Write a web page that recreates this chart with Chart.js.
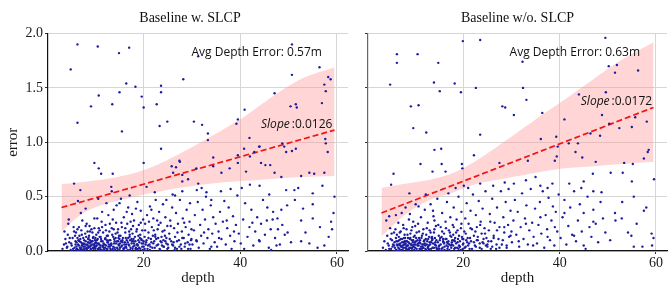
<!DOCTYPE html>
<html>
<head>
<meta charset="utf-8">
<script src="https://cdn.jsdelivr.net/npm/chart.js@4.4.0/dist/chart.umd.min.js"></script>
<style>
  body { margin: 0; background: #fff; }
  #wrap { position: relative; width: 671px; height: 287px; }
  canvas { position: absolute; top: 0; }
</style>
</head>
<body>
<div id="wrap">
  <canvas id="leftChart" width="352" height="287" style="left:0"></canvas>
  <canvas id="rightChart" width="319" height="287" style="left:352px"></canvas>
</div>
<script>
// depth / error samples, [depth, error]
const leftPoints = [
  [6.3,1.90],[10.5,1.88],[17.0,1.87],[14.9,1.82],[4.9,1.67],[16.4,1.54],[18.3,1.51],[15.0,1.46],[23.6,1.52],[23.6,1.46],
  [28.2,1.58],[19.6,1.42],[10.7,1.43],[20.0,1.32],[13.5,1.35],[9.1,1.33],[22.7,1.35],[6.3,1.18],[15.5,1.10],[23.3,1.15],
  [24.9,1.19],[30.4,1.19],[32.1,1.16],[33.3,1.08],[33.3,1.02],[23.6,0.94],[39.2,1.17],[39.5,1.21],[40.9,1.30],[47.1,1.45],
  [50.7,1.62],[50.7,1.90],[56.4,1.69],[57.4,1.53],[57.7,1.47],[58.2,1.60],[58.7,1.58],[51.5,1.35],[51.7,1.32],[56.9,1.36],
  [50.4,1.33],[31.3,1.79],[9.8,0.81],[10.7,0.76],[11.2,0.71],[13.6,0.71],[20.0,0.81],[5.6,0.62],[6.9,0.56],[6.4,0.46],
  [8.0,0.39],[4.5,0.29],[3.6,0.18],
  [25.8,0.78],[27.5,0.82],[26.1,0.72],[30.9,0.76],[34.4,0.86],[34.4,0.78],[36.1,0.72],[37.8,0.76],[39.5,0.81],[39.5,0.88],
  [41.9,1.04],[40.8,0.94],[42.0,0.87],[44.0,0.96],[42.9,0.91],[41.2,0.73],[44.3,0.81],[45.2,0.79],[46.2,0.79],[47.1,0.72],
  [49.1,0.96],[49.5,0.91],[50.7,0.92],[52.6,0.69],[54.3,0.72],[55.3,0.71],[57.4,0.72],[58.1,0.91],[57.6,1.03],[28.0,0.64],
  [29.2,0.66],[31.3,0.62],[48.7,0.99],[51.5,0.94],[57.7,0.99],[43.9,0.96],
  [13.3,0.59],[13.4,0.55],[10.6,0.48],[15.0,0.44],[17.1,0.51],[20.6,0.59],[22.3,0.54],[24.7,0.47],[26.7,0.77],[27.4,0.83],
  [26.5,0.51],[28.0,0.70],
  [59.5,0.50],[59.3,0.35],[59.0,0.20],[58.3,0.13],[57.4,0.05],[56.0,0.03],[54.3,0.07],[52.6,0.09],[55.0,0.53],[55.0,0.43],
  [55.0,0.30],[52.6,0.28],[53.0,0.39],[51.2,0.56],[49.5,0.56],[48.5,0.68],[48.5,0.38],[46.7,0.29],[47.8,0.20],[49.8,0.17],
  [46.4,0.01],
  [3.2,0.02],[3.5,0.06],[3.8,0.11],[4.1,0.03],[4.3,0.15],[4.6,0.08],[4.9,0.01],[5.1,0.05],[5.3,0.12],[5.5,0.22],
  [5.7,0.03],[5.9,0.09],[6.0,0.17],[4.4,0.25],[3.9,0.07],[5.2,0.00],[6.1,0.04],
  [6.2,0.02],[6.4,0.06],[6.5,0.10],[6.7,0.14],[6.8,0.03],[7.0,0.08],[7.1,0.19],[7.2,0.05],[7.4,0.01],[7.5,0.12],
  [7.6,0.07],[7.8,0.04],[7.9,0.16],[8.0,0.09],[8.1,0.02],[8.2,0.25],[8.3,0.06],[8.5,0.11],[8.6,0.03],[8.7,0.14],
  [8.8,0.07],[9.0,0.01],[9.1,0.05],[9.2,0.20],[9.3,0.09],[9.5,0.03],[9.6,0.13],[9.7,0.06],[9.8,0.30],[9.9,0.10],
  [6.6,0.22],[7.3,0.28],[8.4,0.18],[9.4,0.17],[6.9,0.01],[7.7,0.02],[8.9,0.04],[9.6,0.02],[6.3,0.12],[7.0,0.35],
  [8.0,0.00],[8.8,0.23],[9.9,0.04],
  [10.0,0.02],[10.1,0.08],[10.2,0.15],[10.3,0.05],[10.5,0.11],[10.6,0.01],[10.7,0.21],[10.8,0.06],[11.0,0.03],[11.1,0.13],
  [11.2,0.09],[11.3,0.27],[11.5,0.04],[11.6,0.17],[11.7,0.07],[11.8,0.01],[12.0,0.11],[12.1,0.24],[12.2,0.05],[12.4,0.14],
  [12.5,0.02],[12.6,0.08],[12.7,0.33],[12.9,0.18],[13.0,0.04],[13.1,0.10],[13.3,0.06],[13.4,0.21],[13.5,0.01],[13.7,0.13],
  [13.8,0.38],[13.9,0.07],[14.0,0.03],[14.2,0.16],[14.3,0.26],[14.5,0.09],[14.6,0.02],[14.8,0.12],[14.9,0.05],[10.4,0.30],
  [11.4,0.36],[12.3,0.44],[13.6,0.29],[14.4,0.42],[10.9,0.19],[12.8,0.00],[14.7,0.20],
  [15.0,0.01],[15.1,0.07],[15.2,0.14],[15.4,0.04],[15.5,0.22],[15.6,0.10],[15.8,0.02],[15.9,0.31],[16.0,0.06],[16.2,0.17],
  [16.3,0.12],[16.4,0.03],[16.6,0.25],[16.7,0.08],[16.8,0.40],[17.0,0.05],[17.1,0.15],[17.2,0.01],[17.4,0.20],[17.5,0.11],
  [17.6,0.34],[17.8,0.04],[17.9,0.09],[18.0,0.28],[18.2,0.13],[18.3,0.02],[18.5,0.18],[18.6,0.06],[18.7,0.45],[18.9,0.10],
  [19.0,0.24],[19.1,0.03],[19.3,0.15],[19.4,0.37],[19.6,0.07],[19.7,0.19],[19.8,0.01],[19.9,0.29],[15.3,0.48],[16.5,0.36],
  [17.3,0.27],[18.4,0.39],[16.1,0.00],[18.8,0.05],[17.7,0.16],
  [20.0,0.04],[20.2,0.13],[20.3,0.25],[20.5,0.08],[20.7,0.33],[20.8,0.02],[21.0,0.17],[21.2,0.06],[21.3,0.41],[21.5,0.11],
  [21.7,0.22],[21.8,0.03],[22.0,0.30],[22.2,0.09],[22.4,0.15],[22.5,0.47],[22.7,0.05],[22.9,0.20],[23.0,0.12],[23.2,0.36],
  [23.4,0.01],[23.5,0.26],[23.7,0.08],[23.9,0.18],[24.0,0.43],[24.2,0.04],[24.4,0.14],[24.5,0.31],[24.7,0.07],[24.9,0.23],
  [20.4,0.00],[21.6,0.38],[22.8,0.28],[24.1,0.10],
  [25.1,0.03],[25.3,0.16],[25.5,0.28],[25.7,0.09],[25.9,0.40],[26.1,0.05],[26.3,0.21],[26.5,0.13],[26.7,0.35],[26.9,0.02],
  [27.1,0.25],[27.3,0.10],[27.5,0.47],[27.7,0.06],[27.9,0.18],[28.1,0.30],[28.3,0.12],[28.5,0.04],[28.7,0.22],[28.9,0.38],
  [29.1,0.08],[29.3,0.15],[29.5,0.27],[29.7,0.02],[29.9,0.11],[26.0,0.52],[28.0,0.55],[29.6,0.44],
  [30.1,0.06],[30.4,0.19],[30.6,0.33],[30.9,0.10],[31.2,0.45],[31.4,0.03],[31.7,0.24],[31.9,0.14],[32.2,0.38],[32.4,0.07],
  [32.7,0.29],[32.9,0.50],[33.2,0.12],[33.4,0.20],[33.7,0.02],[33.9,0.42],[34.2,0.16],[34.4,0.31],[34.7,0.08],[34.9,0.25],
  [31.0,0.56],[32.0,0.58],[33.0,0.54],[34.0,0.47],
  [35.2,0.04],[35.5,0.18],[35.8,0.36],[36.1,0.11],[36.4,0.27],[36.7,0.46],[37.0,0.06],[37.3,0.21],[37.6,0.40],[37.9,0.14],
  [38.2,0.02],[38.5,0.32],[38.8,0.09],[39.1,0.24],[39.4,0.51],[39.7,0.16],[36.0,0.55],[38.0,0.57],
  [40.1,0.07],[40.6,0.29],[41.0,0.44],[41.5,0.13],[41.9,0.22],[42.3,0.38],[42.7,0.05],[43.1,0.18],[43.5,0.31],[43.9,0.10],
  [44.3,0.25],[44.7,0.47],[45.1,0.15],[45.5,0.28],[45.9,0.03],[46.3,0.20],[46.8,0.36],[47.2,0.12],[47.7,0.30],[48.2,0.06],
  [48.7,0.24],[49.2,0.15],[49.7,0.42],[40.3,0.58],[42.0,0.61],[44.0,0.60],[46.0,0.52],
  [50.5,0.08],[51.3,0.47],[53.5,0.17],[56.5,0.22],[58.8,0.27],[52.0,0.58],[57.0,0.60]
];

// dense cluster near the bottom of the left panel
const leftCore = [
  [4.2,0.04],[4.7,0.12],[5.0,0.07],[5.4,0.02],[5.8,0.14],[6.1,0.08],[6.4,0.01],[6.6,0.05],[6.9,0.11],[7.1,0.02],
  [7.3,0.07],[7.5,0.04],[7.7,0.10],[7.9,0.06],[8.1,0.13],[8.3,0.02],[8.5,0.08],[8.7,0.04],[8.9,0.10],[9.1,0.02],
  [9.3,0.06],[9.5,0.12],[9.7,0.03],[9.9,0.07],[10.1,0.04],[10.3,0.10],[10.5,0.02],[10.7,0.07],[10.9,0.13],[11.1,0.05],
  [11.3,0.01],[11.5,0.09],[11.7,0.03],[11.9,0.06],[12.1,0.12],[12.3,0.02],[12.5,0.08],[12.7,0.04],[12.9,0.10],[13.1,0.02],
  [13.3,0.07],[13.5,0.15],[13.7,0.04],[13.9,0.11],[14.1,0.01],[14.3,0.07],[14.5,0.03],[14.7,0.09],[14.9,0.14],[15.1,0.03],
  [15.3,0.09],[15.5,0.05],[15.7,0.12],[15.9,0.02],[16.1,0.08],[16.3,0.04],[16.5,0.10],[16.7,0.01],[16.9,0.06],[17.1,0.13],
  [17.3,0.03],[17.5,0.07],[17.7,0.02],[17.9,0.11],[18.1,0.05],[18.3,0.09],[18.5,0.01],[18.7,0.06],[18.9,0.14],[19.1,0.08],
  [19.3,0.02],[19.5,0.11],[19.7,0.04],[19.9,0.07],[20.2,0.02],[20.6,0.10],[20.9,0.05],[21.3,0.01],[21.6,0.08],[21.9,0.14],
  [22.3,0.03],[22.6,0.11],[23.0,0.06],[23.3,0.02],[23.7,0.13],[24.1,0.04],[24.5,0.09],[24.9,0.02],[25.4,0.11],[25.9,0.06],
  [26.4,0.01],[26.9,0.09],[27.4,0.04],[28.0,0.12],[28.6,0.07],[29.2,0.02],[29.8,0.10],
  [5.6,0.18],[6.3,0.20],[7.2,0.15],[8.0,0.23],[8.9,0.18],[9.8,0.21],[10.6,0.17],[11.4,0.22],[12.2,0.19],[13.0,0.25],
  [13.8,0.20],[14.6,0.17],[15.4,0.26],[16.2,0.21],[17.0,0.18],[17.8,0.23],[18.6,0.20],[19.4,0.26],[20.3,0.19],[21.1,0.27],
  [22.1,0.19],[23.1,0.24],[24.3,0.19],[25.6,0.23],[27.0,0.17],[28.4,0.26],[29.9,0.20],[31.0,0.09],[32.5,0.17],[34.0,0.04],
  [35.6,0.12],[37.2,0.28],[38.7,0.18],[40.8,0.02],[42.5,0.26],[44.0,0.09],[45.6,0.40],[47.5,0.05],[6.0,0.01],[7.0,0.03],
  [8.4,0.05],[9.4,0.09],[10.0,0.12],[11.0,0.01],[12.0,0.03],[12.6,0.14],[13.2,0.05],[14.0,0.09],[15.0,0.11],[16.0,0.03],
  [16.8,0.12],[17.6,0.09],[18.4,0.03],[19.2,0.12],[20.0,0.09],[21.0,0.12],[22.0,0.07],[23.5,0.09],[25.0,0.06],[26.5,0.03],
  [5.9,0.06],[6.7,0.09],[7.4,0.06],[8.2,0.03],[8.6,0.12],[9.0,0.08],[9.8,0.05],[10.4,0.07],[10.8,0.03],[11.2,0.11],
  [11.6,0.05],[12.4,0.10],[12.8,0.06],[13.6,0.02],[14.2,0.12],[14.8,0.06],[15.6,0.08],[16.4,0.06],[17.2,0.10],[18.0,0.07],
  [18.8,0.02],[19.6,0.10],[20.4,0.06],[21.4,0.04],[22.4,0.13],[23.8,0.05],[24.7,0.12],[26.2,0.08],[27.8,0.02],[29.5,0.06]
];

const rightPoints = [
  [6.2,1.81],[10.5,1.81],[6.2,1.73],[14.8,1.73],[4.8,1.53],[13.9,1.55],[18.2,1.54],[15.1,1.47],[19.5,1.46],[22.6,1.50],
  [23.5,1.94],[19.9,1.93],[9.1,1.33],[10.7,1.34],[9.6,1.13],[12.3,1.09],[23.5,1.07],[15.4,0.94],[28.1,1.33],[28.7,1.32],
  [30.5,1.25],[32.3,1.74],[32.4,1.50],[33.1,1.39],[49.5,1.96],[50.2,1.70],[51.9,1.71],[51.5,1.64],[56.3,1.66],[49.6,1.46],
  [44.0,1.44],[36.4,1.27],[48.8,1.25],[50.3,1.17],[52.4,1.13],[55.0,1.14],[58.1,1.19],[55.7,1.23],[41.0,1.21],[46.4,1.08],
  [48.4,1.06],[36.1,1.03],[39.3,1.05],[41.9,0.99],[43.8,0.99],[39.6,0.96],
  [39.0,0.83],[39.4,0.87],[43.3,0.91],[44.7,0.86],[47.5,0.82],[55.2,0.80],[53.4,0.81],[57.5,0.85],[58.3,0.91],[58.5,0.93],
  [50.6,0.72],[53.1,0.72],[55.0,0.64],[59.6,0.66],[46.9,0.71],[45.0,0.64],[48.7,0.54],[55.4,0.50],[57.5,0.37],[51.6,0.28],
  [52.9,0.30],[54.2,0.17],[54.9,0.14],[59.1,0.16],[59.2,0.05],[57.2,0.04],[55.4,0.04],[14.0,0.93],[11.1,0.80],[15.5,0.80],
  [13.6,0.73],[5.5,0.71],[5.0,0.61],[8.8,0.53],[10.1,0.43],[4.6,0.32],[19.7,0.80],[19.8,0.76],[22.2,0.88],[27.5,0.81],
  [33.4,0.83],[16.3,0.73],
  [3.3,0.03],[3.6,0.09],[3.9,0.01],[4.2,0.14],[4.5,0.05],[4.8,0.21],[5.0,0.02],[5.2,0.10],[5.4,0.06],[5.6,0.17],
  [5.8,0.03],[6.0,0.12],[4.0,0.28],[5.5,0.00],[6.0,0.33],
  [6.1,0.01],[6.3,0.05],[6.4,0.09],[6.6,0.13],[6.7,0.02],[6.9,0.07],[7.0,0.18],[7.1,0.04],[7.3,0.11],[7.4,0.01],
  [7.5,0.24],[7.7,0.06],[7.8,0.15],[7.9,0.03],[8.1,0.09],[8.2,0.20],[8.3,0.05],[8.5,0.12],[8.6,0.02],[8.7,0.29],
  [8.8,0.07],[9.0,0.16],[9.1,0.03],[9.3,0.10],[9.4,0.22],[9.5,0.05],[9.7,0.13],[9.8,0.01],[9.9,0.08],[6.5,0.26],
  [7.2,0.35],[8.0,0.40],[8.9,0.34],[9.6,0.27],[6.8,0.00],[7.6,0.08],[8.4,0.01],[9.2,0.06],[6.2,0.15],[7.9,0.12],
  [10.0,0.03],[10.2,0.09],[10.3,0.17],[10.5,0.05],[10.6,0.25],[10.8,0.12],[10.9,0.02],[11.1,0.07],[11.2,0.31],[11.4,0.14],
  [11.5,0.04],[11.7,0.20],[11.8,0.09],[12.0,0.38],[12.1,0.02],[12.3,0.15],[12.4,0.06],[12.6,0.26],[12.7,0.11],[12.9,0.01],
  [13.0,0.19],[13.2,0.43],[13.3,0.08],[13.5,0.13],[13.6,0.03],[13.8,0.32],[13.9,0.17],[14.1,0.06],[14.3,0.23],[14.4,0.10],
  [14.6,0.48],[14.7,0.02],[14.9,0.14],[10.7,0.41],[12.2,0.52],[13.7,0.37],[11.0,0.00],[12.8,0.05],[14.0,0.28],
  [15.0,0.05],[15.2,0.12],[15.3,0.22],[15.5,0.02],[15.6,0.35],[15.8,0.09],[16.0,0.16],[16.1,0.04],[16.3,0.27],[16.5,0.11],
  [16.6,0.45],[16.8,0.07],[17.0,0.19],[17.1,0.01],[17.3,0.31],[17.5,0.13],[17.6,0.06],[17.8,0.24],[18.0,0.40],[18.1,0.10],
  [18.3,0.03],[18.5,0.17],[18.6,0.29],[18.8,0.08],[19.0,0.50],[19.1,0.14],[19.3,0.04],[19.5,0.21],[19.6,0.36],[19.8,0.11],
  [19.9,0.02],[16.9,0.53],[18.4,0.58],[15.9,0.00],[17.9,0.15],
  [20.0,0.07],[20.2,0.18],[20.4,0.30],[20.5,0.04],[20.7,0.44],[20.9,0.12],[21.1,0.25],[21.3,0.02],[21.5,0.37],[21.6,0.09],
  [21.8,0.20],[22.0,0.52],[22.2,0.14],[22.4,0.05],[22.6,0.33],[22.8,0.22],[23.0,0.10],[23.2,0.46],[23.4,0.03],[23.6,0.27],
  [23.8,0.16],[24.0,0.39],[24.2,0.07],[24.4,0.21],[24.6,0.55],[24.8,0.12],[20.1,0.60],[21.0,0.58],[23.5,0.62],
  [25.0,0.04],[25.3,0.19],[25.5,0.34],[25.8,0.09],[26.0,0.48],[26.3,0.14],[26.5,0.26],[26.8,0.02],[27.0,0.40],[27.3,0.11],
  [27.5,0.22],[27.8,0.55],[28.0,0.06],[28.3,0.31],[28.5,0.17],[28.8,0.45],[29.0,0.03],[29.3,0.24],[29.5,0.13],[29.8,0.37],
  [26.2,0.60],[28.6,0.63],[29.4,0.57],
  [30.1,0.08],[30.4,0.28],[30.7,0.47],[31.0,0.15],[31.3,0.36],[31.6,0.04],[31.9,0.22],[32.2,0.53],[32.5,0.11],[32.8,0.30],
  [33.1,0.42],[33.4,0.06],[33.7,0.19],[34.0,0.57],[34.3,0.26],[34.6,0.13],[34.9,0.39],[30.5,0.62],[33.0,0.65],[35.0,0.68],
  [35.3,0.07],[35.6,0.24],[35.9,0.45],[36.2,0.16],[36.5,0.55],[36.8,0.03],[37.1,0.33],[37.4,0.20],[37.7,0.49],[38.0,0.10],
  [38.3,0.28],[38.6,0.41],[38.9,0.05],[39.2,0.36],[39.5,0.18],[39.8,0.52],[36.0,0.60],[37.5,0.58],[38.5,0.62],
  [40.2,0.12],[40.6,0.31],[41.0,0.47],[41.4,0.06],[41.8,0.23],[42.2,0.40],[42.6,0.15],[43.0,0.55],[43.4,0.09],[43.8,0.28],
  [44.2,0.43],[44.6,0.18],[45.0,0.35],[45.4,0.02],[45.8,0.50],[46.2,0.22],[46.6,0.13],[47.0,0.38],[47.5,0.25],[48.0,0.08],
  [48.5,0.45],[49.0,0.30],[49.5,0.17],[42.0,0.62],[44.5,0.58],[47.0,0.55],
  [50.5,0.10],[51.5,0.35],[53.0,0.45],[56.0,0.25],[58.0,0.40],[59.5,0.12]
];

// dense cluster near the bottom of the right panel
const rightCore = [
  [4.3,0.07],[4.6,0.02],[4.9,0.11],[5.3,0.04],[5.7,0.08],[6.0,0.01],[6.2,0.06],[6.5,0.03],[6.7,0.10],[6.9,0.05],
  [7.1,0.01],[7.3,0.08],[7.5,0.03],[7.7,0.12],[7.9,0.06],[8.1,0.02],[8.3,0.09],[8.5,0.05],[8.7,0.01],[8.9,0.11],
  [9.1,0.06],[9.3,0.02],[9.5,0.08],[9.7,0.04],[9.9,0.14],[10.1,0.06],[10.3,0.02],[10.5,0.10],[10.7,0.05],[10.9,0.08],
  [11.1,0.02],[11.3,0.12],[11.5,0.06],[11.7,0.03],[11.9,0.10],[12.1,0.05],[12.3,0.01],[12.5,0.09],[12.7,0.04],[12.9,0.13],
  [13.1,0.06],[13.3,0.02],[13.5,0.10],[13.7,0.07],[13.9,0.03],[14.1,0.12],[14.3,0.05],[14.5,0.01],[14.7,0.08],[14.9,0.04],
  [15.1,0.10],[15.3,0.06],[15.5,0.13],[15.7,0.03],[15.9,0.08],[16.1,0.01],[16.3,0.11],[16.5,0.05],[16.7,0.02],[16.9,0.09],
  [17.1,0.06],[17.3,0.14],[17.5,0.03],[17.7,0.10],[17.9,0.05],[18.1,0.02],[18.3,0.12],[18.5,0.07],[18.7,0.03],[18.9,0.11],
  [19.1,0.05],[19.3,0.09],[19.5,0.01],[19.7,0.13],[19.9,0.06],[20.3,0.03],[20.6,0.10],[21.0,0.05],[21.4,0.12],[21.8,0.02],
  [22.2,0.08],[22.6,0.04],[23.0,0.13],[23.4,0.07],[23.8,0.02],[24.2,0.11],[24.7,0.05],[25.2,0.09],[25.7,0.02],[26.3,0.12],
  [26.9,0.06],[27.5,0.03],[28.2,0.10],[29.0,0.05],[29.8,0.14],
  [5.1,0.16],[5.9,0.20],[6.8,0.17],[7.6,0.21],[8.4,0.15],[9.2,0.19],[10.0,0.23],[10.8,0.18],[11.6,0.16],[12.4,0.21],
  [13.2,0.17],[14.0,0.20],[14.8,0.24],[15.6,0.18],[16.4,0.21],[17.2,0.17],[18.0,0.22],[18.8,0.19],[19.6,0.25],[20.5,0.16],
  [21.5,0.21],[22.5,0.18],[23.5,0.24],[24.5,0.16],[25.6,0.27],[27.0,0.19],[28.5,0.22],[30.0,0.18],[31.5,0.09],[33.0,0.25],
  [34.5,0.05],[36.0,0.31],[37.5,0.13],[39.0,0.22],[41.0,0.35],[43.0,0.14],[45.0,0.05],[47.0,0.27],[6.4,0.00],[7.2,0.04],
  [8.0,0.07],[8.8,0.03],[9.6,0.10],[10.4,0.00],[11.2,0.04],[12.0,0.07],[12.8,0.02],[13.6,0.11],[14.4,0.03],[15.2,0.00],
  [16.0,0.07],[16.8,0.04],[17.6,0.08],[18.4,0.00],[19.2,0.04],[20.0,0.11],[21.2,0.07],[22.4,0.00],[24.0,0.08],[26.0,0.04],
  [5.6,0.05],[6.1,0.09],[6.6,0.06],[7.0,0.11],[7.4,0.05],[7.8,0.09],[8.2,0.04],[8.6,0.08],[9.0,0.12],[9.4,0.03],
  [9.8,0.06],[10.2,0.12],[10.6,0.07],[11.0,0.10],[11.4,0.02],[11.8,0.06],[12.2,0.11],[12.6,0.03],[13.0,0.08],[13.4,0.12],
  [14.2,0.08],[15.0,0.02],[15.8,0.11],[16.6,0.08],[17.4,0.05],[18.2,0.09],[19.0,0.02],[20.8,0.08],[22.8,0.10],[25.0,0.06]
];

// regression fit and confidence band
const bandDepth = [3, 7.5, 12.5, 18, 23, 29, 35, 41, 47, 53, 59.5];
const leftUpper = [0.615, 0.635, 0.665, 0.716, 0.795, 0.93, 1.08, 1.24, 1.43, 1.59, 1.69];
const leftLower = [0.18, 0.35, 0.44, 0.50, 0.545, 0.59, 0.625, 0.645, 0.665, 0.68, 0.69];
const rightUpper = [0.58, 0.615, 0.65, 0.72, 0.84, 1.02, 1.21, 1.39, 1.58, 1.76, 1.92];
const rightLower = [0.135, 0.32, 0.46, 0.54, 0.62, 0.67, 0.72, 0.76, 0.78, 0.80, 0.82];
const fitDepth = [3, 59.5];
const leftFit = [0.40, 1.112];
const rightFit = [0.35, 1.32];

const xTicks = [20, 40, 60];
const serif = 'Liberation Serif';

const toXY = pts => pts.map(p => ({ x: p[0], y: p[1] }));
const zipXY = (xs, ys) => xs.map((x, i) => ({ x: x, y: ys[i] }));

// titles and text labels
const panelText = {
    id: 'panelText',
    afterDraw(chart, args, o) {
        const { ctx, scales: { x, y } } = chart;
        ctx.save();
        ctx.fillStyle = '#111';
        ctx.textBaseline = 'middle';
        ctx.textAlign = 'center';
        ctx.font = '14px "' + serif + '"';
        ctx.fillText(o.title, o.titleX, 18);

        ctx.textAlign = 'left';
        ctx.font = '12px "Open Sans"';
        ctx.fillText(o.avg, x.getPixelForValue(o.avgAt[0]), y.getPixelForValue(o.avgAt[1]));

        const sx = x.getPixelForValue(o.slopeAt[0]);
        const sy = y.getPixelForValue(o.slopeAt[1]);
        ctx.font = 'italic 12px "Open Sans"';
        ctx.fillText('Slope', sx, sy);
        const w = ctx.measureText('Slope').width;
        ctx.font = '12px "Open Sans"';
        ctx.fillText(':' + o.slope, sx + w + 2, sy);
        ctx.restore();
    }
};

function buildChart(id, c) {
    return new Chart(document.getElementById(id), {
        type: 'scatter',
        data: {
            datasets: [
                {
                    data: toXY(c.points),
                    backgroundColor: '#1c1c9e',
                    pointRadius: 1.2,
                    pointBorderWidth: 0,
                    order: 0
                },
                {
                    type: 'line',
                    data: zipXY(fitDepth, c.fit),
                    showLine: true,
                    borderColor: '#f21414',
                    borderWidth: 1.7,
                    borderDash: [6, 3],
                    pointRadius: 0,
                    fill: false,
                    order: 1
                },
                {
                    type: 'line',
                    data: zipXY(bandDepth, c.lower),
                    showLine: true,
                    borderWidth: 0,
                    borderColor: 'rgba(0,0,0,0)',
                    pointRadius: 0,
                    fill: false,
                    tension: 0.3,
                    order: 2
                },
                {
                    type: 'line',
                    data: zipXY(bandDepth, c.upper),
                    showLine: true,
                    borderWidth: 0,
                    borderColor: 'rgba(0,0,0,0)',
                    backgroundColor: 'rgba(255,150,150,0.4)',
                    pointRadius: 0,
                    fill: '-1',
                    tension: 0.3,
                    order: 3
                }
            ]
        },
        options: {
            responsive: false,
            animation: false,
            devicePixelRatio: 1,
            layout: { padding: { top: 33.5, right: c.padRight, left: 0, bottom: 0 } },
            plugins: {
                legend: { display: false },
                tooltip: { enabled: false },
                panelText: c.text
            },
            scales: {
                x: {
                    type: 'linear',
                    min: 0.2,
                    max: 62.3,
                    afterFit: s => { s.height = 36; },
                    afterBuildTicks: s => { s.ticks = xTicks.map(v => ({ value: v })); },
                    ticks: {
                        font: { family: serif, size: 14 },
                        color: '#1a1a1a',
                        padding: 1,
                        maxRotation: 0
                    },
                    grid: { color: '#d6d6d6', lineWidth: 1, tickLength: 3, tickColor: '#333' },
                    border: { color: '#111', width: 1.2 },
                    title: {
                        display: true,
                        text: 'depth',
                        font: { family: serif, size: 15 },
                        color: '#1a1a1a',
                        padding: 0
                    }
                },
                y: {
                    min: 0,
                    max: 2,
                    afterFit: s => { s.width = c.yWidth; },
                    ticks: {
                        display: c.showY,
                        stepSize: 0.5,
                        callback: v => v.toFixed(1),
                        font: { family: serif, size: 14 },
                        color: '#1a1a1a',
                        padding: 2
                    },
                    grid: { color: '#d6d6d6', lineWidth: 1, tickLength: 3, tickColor: '#333' },
                    border: { color: c.axisColor, width: 1.2 },
                    title: {
                        display: c.showY,
                        text: 'error',
                        font: { family: serif, size: 15 },
                        color: '#1a1a1a',
                        padding: { top: 4, bottom: 0 }
                    }
                }
            }
        },
        plugins: [panelText]
    });
}

buildChart('leftChart', {
    points: leftPoints.concat(leftCore), fit: leftFit, upper: leftUpper, lower: leftLower,
    yWidth: 48, showY: true, axisColor: '#111', padRight: 3,
    text: { title: 'Baseline w. SLCP', titleX: 190, avg: 'Avg Depth Error: 0.57m', avgAt: [29.9, 1.826],
            slope: '0.0126', slopeAt: [44.3, 1.165] }
});

buildChart('rightChart', {
    points: rightPoints.concat(rightCore), fit: rightFit, upper: rightUpper, lower: rightLower,
    yWidth: 16, showY: false, axisColor: '#666', padRight: 1.5,
    text: { title: 'Baseline w/o. SLCP', titleX: 165.5, avg: 'Avg Depth Error: 0.63m', avgAt: [29.6, 1.826],
            slope: '0.0172', slopeAt: [44.4, 1.376] }
});
</script>
</body>
</html>
